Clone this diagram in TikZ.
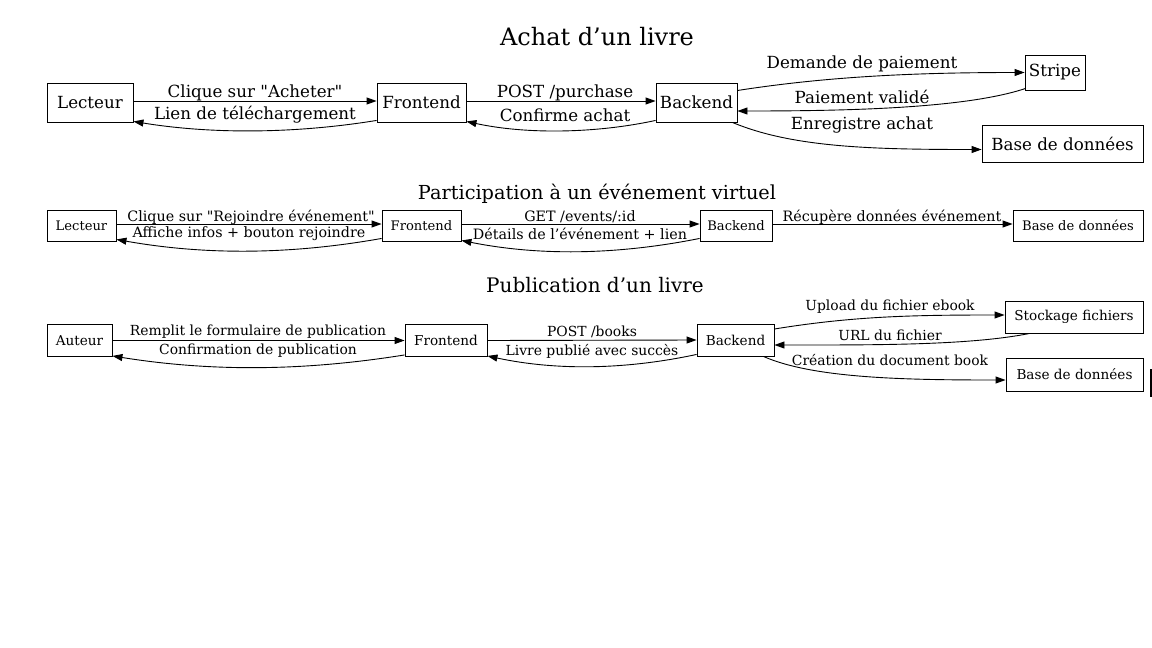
\documentclass[tikz,border=0pt]{standalone}
\usepackage{fontspec}
\newfontfamily\dvs{DejaVu Serif}
\usetikzlibrary{arrows.meta}
\tikzset{
  box/.style={draw, line width=0.9pt, rectangle, inner sep=0pt, align=center},
  arr/.style={draw, line width=0.9pt, -{Triangle[length=10pt,width=7pt]}},
  ttlA/.style={font=\dvs\fontsize{24}{28}\selectfont},
  ttlB/.style={font=\dvs\fontsize{19.3}{22}\selectfont},
  ttlC/.style={font=\dvs\fontsize{20}{23}\selectfont},
  fA/.style={font=\dvs\fontsize{16.7}{19}\selectfont},
  fB/.style={font=\dvs\fontsize{14.3}{16}\selectfont},
  fC/.style={font=\dvs\fontsize{13.9}{16}\selectfont},
  nB/.style={font=\dvs\fontsize{13.1}{15}\selectfont},
  nC/.style={font=\dvs\fontsize{13.6}{15}\selectfont},
  lbl/.style={inner sep=0pt, anchor=center}
}
\begin{document}
\begin{tikzpicture}[x=1pt,y=-1pt]
\useasboundingbox (0,0) rectangle (1152,648);
\fill[white] (0,0) rectangle (1152,648);

% ---------- Achat d'un livre ----------
\node[ttlA] (t1) at (597,37) {Achat d’un livre};
\node[box,fA,minimum width=86pt,minimum height=39pt] (L1) at (90,102.5) {Lecteur};
\node[box,fA,minimum width=89pt,minimum height=39pt] (F1) at (421.5,102.5) {Frontend};
\node[box,fA,minimum width=81pt,minimum height=39pt] (B1) at (696.5,102.5) {Backend};
\node[box,fA,minimum width=60pt,minimum height=35pt] (S1) at (1055,72.5) {Stripe};
\node[box,fA,minimum width=161pt,minimum height=37pt] (D1) at (1062.5,143.5) {Base de données};

\draw[arr] ([yshift=1.5pt]L1.east) -- ([yshift=1.5pt]F1.west)
  node[lbl,fA] at (255,93) {Clique sur "Acheter"};
\draw[arr] ([yshift=2pt]F1.south west) .. controls +(-80,13) and +(80,13) .. ([yshift=1pt]L1.south east)
  node[lbl,fA] at (255,115) {Lien de téléchargement};
\draw[arr] ([yshift=1.5pt]F1.east) -- ([yshift=1.5pt]B1.west)
  node[lbl,fA] at (565,93) {POST /purchase};
\draw[arr] ([yshift=2pt]B1.south west) .. controls +(-60,13) and +(60,13) .. ([yshift=1pt]F1.south east)
  node[lbl,fA] at (565,115) {Confirme achat};
\draw[arr] ([yshift=12pt]B1.east) .. controls +(90,-14) and +(-110,0) .. (S1.west)
  node[lbl,fA] at (862,64) {Demande de paiement};
\draw[arr] ([yshift=2pt,xshift=1pt]S1.south west) .. controls +(-60,20) and +(110,0) .. ([yshift=-8.5pt]B1.east)
  node[lbl,fA] at (862,97) {Paiement validé};
\draw[arr] ([xshift=-5pt]B1.south east) .. controls +(60,25) and +(-110,0) .. ([yshift=-6pt]D1.west)
  node[lbl,fA] at (862,125) {Enregistre achat};

% ---------- Participation ----------
\node[ttlB] (t2) at (597,194) {Participation à un événement virtuel};
\node[box,nB,minimum width=69pt,minimum height=31pt] (L2) at (81.5,225.5) {Lecteur};
\node[box,nB,minimum width=79pt,minimum height=31pt] (F2) at (421.5,225.5) {Frontend};
\node[box,nB,minimum width=72pt,minimum height=31pt] (B2) at (736,225.5) {Backend};
\node[box,nB,minimum width=130pt,minimum height=31pt] (D2) at (1078,225.5) {Base de données};

\draw[arr] ([yshift=1.5pt]L2.east) -- ([yshift=1.5pt]F2.west)
  node[lbl,fB] at (251,217) {Clique sur "Rejoindre événement"};
\draw[arr] ([yshift=3pt]F2.south west) .. controls +(-90,16) and +(90,16) .. ([yshift=2pt]L2.south east)
  node[lbl,fB] at (249,234) {Affiche infos + bouton rejoindre};
\draw[arr] ([yshift=1.5pt]F2.east) -- ([yshift=1.5pt]B2.west)
  node[lbl,fB] at (580,217) {GET /events/:id};
\draw[arr] ([yshift=3pt]B2.south west) .. controls +(-80,16) and +(80,16) .. ([yshift=1pt]F2.south east)
  node[lbl,fB] at (580,234) {Détails de l’événement + lien};
\draw[arr] ([yshift=1.5pt]B2.east) -- ([yshift=1.5pt]D2.west)
  node[lbl,fB] at (892,217) {Récupère données événement};

% ---------- Publication ----------
\node[ttlC] (t3) at (595,285) {Publication d’un livre};
\node[box,nC,minimum width=65pt,minimum height=32pt] (A3) at (79.5,340.5) {Auteur};
\node[box,nC,minimum width=82pt,minimum height=32pt] (F3) at (446,340.5) {Frontend};
\node[box,nC,minimum width=77pt,minimum height=32pt] (B3) at (735.5,340) {Backend};
\node[box,nC,minimum width=138pt,minimum height=32pt] (S3) at (1074,317) {Stockage fichiers};
\node[box,nC,minimum width=137pt,minimum height=33pt] (D3) at (1074.5,374.5) {Base de données};

\draw[arr] (A3.east) -- (F3.west)
  node[lbl,fC] at (258,332) {Remplit le formulaire de publication};
\draw[arr] ([yshift=2pt]F3.south west) .. controls +(-100,16) and +(100,16) .. ([yshift=1pt]A3.south east)
  node[lbl,fC] at (258,351) {Confirmation de publication};
\draw[arr] (F3.east) -- (B3.west)
  node[lbl,fC] at (592,332) {POST /books};
\draw[arr] ([yshift=2pt]B3.south west) .. controls +(-70,15) and +(70,15) .. ([yshift=1pt]F3.south east)
  node[lbl,fC] at (592,351) {Livre publié avec succès};
\draw[arr] ([yshift=11pt]B3.east) .. controls +(80,-13) and +(-90,0) .. ([yshift=2pt]S3.west)
  node[lbl,fC] at (890,307) {Upload du fichier ebook};
\draw[arr] ([xshift=25pt]S3.south west) .. controls +(-60,12) and +(100,0) .. ([yshift=-5pt]B3.east)
  node[lbl,fC] at (890,335) {URL du fichier};
\draw[arr] ([xshift=-11pt]B3.south east) .. controls +(50,22) and +(-100,0) .. ([yshift=-5.5pt]D3.west)
  node[lbl,fC] at (890,360) {Création du document book};

\coordinate (edgeT) at (1151,369);
\coordinate (edgeB) at (1151,397);
\draw[line width=1.5pt] (edgeT) -- (edgeB);
\end{tikzpicture}
\end{document}
